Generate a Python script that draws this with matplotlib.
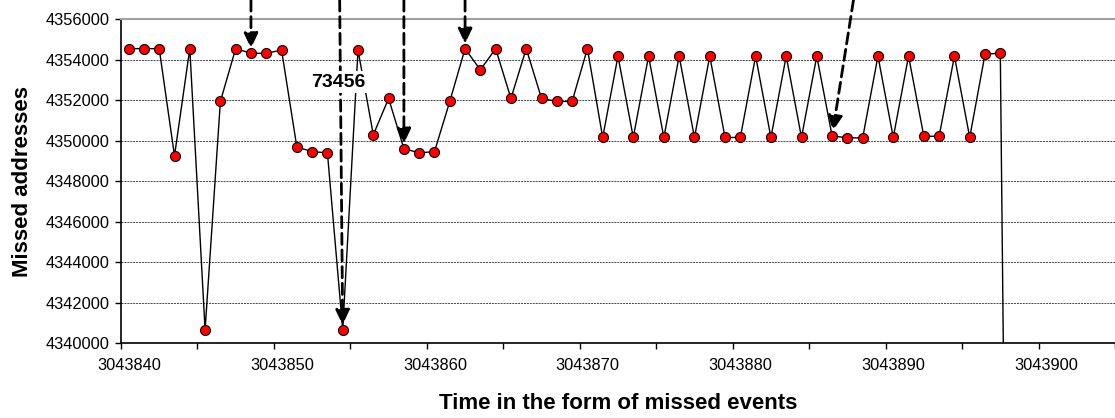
import numpy as np
import matplotlib.pyplot as plt
import matplotlib.transforms as mtransforms
from matplotlib.ticker import MultipleLocator

# missed events (x) and missed addresses (y)
events = [
    3043840.5, 3043841.5, 3043842.5, 3043843.5, 3043844.5, 3043845.5, 3043846.5,
    3043847.5, 3043848.5, 3043849.5, 3043850.5, 3043851.5, 3043852.5, 3043853.5,
    3043854.5, 3043855.5, 3043856.5, 3043857.5, 3043858.5, 3043859.5, 3043860.5,
    3043861.5, 3043862.5, 3043863.5, 3043864.5, 3043865.5, 3043866.5, 3043867.5,
    3043868.5, 3043869.5, 3043870.5, 3043871.5, 3043872.5, 3043873.5, 3043874.5,
    3043875.5, 3043876.5, 3043877.5, 3043878.5, 3043879.5, 3043880.5, 3043881.5,
    3043882.5, 3043883.5, 3043884.5, 3043885.5, 3043886.5, 3043887.5, 3043888.5,
    3043889.5, 3043890.5, 3043891.5, 3043892.5, 3043893.5, 3043894.5, 3043895.5,
    3043896.5, 3043897.5, 3043898.5,
]
# the last value falls far below the plotted range
addresses = [
    4354550, 4354550, 4354550, 4349250, 4354550, 4340650, 4351940,
    4354550, 4354320, 4354320, 4354480, 4349690, 4349460, 4349400,
    4340650, 4354480, 4350290, 4352090, 4349610, 4349400, 4349460,
    4351940, 4354550, 4353500, 4354550, 4352090, 4354550, 4352090,
    4351940, 4351940, 4354550, 4350160, 4354180, 4350160, 4354180,
    4350160, 4354180, 4350160, 4354180, 4350160, 4350160, 4354180,
    4350160, 4354180, 4350160, 4354180, 4350240, 4350140, 4350140,
    4354180, 4350160, 4354180, 4350220, 4350220, 4354180, 4350160,
    4354270, 4354330, 4281000,
]

# points marked with an arrow (index into the series)
arrow_idx = [8, 14, 18, 22, 46]
arrow_dx = [0.0, -0.2, 0.0, 0.0, 1.4]
label_text = "73456"

plt.rcParams['font.family'] = ['Liberation Sans', 'DejaVu Sans']

fig = plt.figure(figsize=(11.15, 4.18), dpi=100)
ax = fig.add_axes([0.1085, 0.1794, 0.8915, 0.7744])

ax.plot(events, addresses, '-', color='black', lw=1.0, zorder=3)
ax.plot(events[:-1], addresses[:-1], 'o', ms=7.2, mfc='red', mec='black',
        mew=0.8, zorder=4)

ax.set_xlim(3043840, 3043905)
ax.set_ylim(4340000, 4356000)
ax.xaxis.set_major_locator(MultipleLocator(10))
ax.xaxis.set_minor_locator(MultipleLocator(5))
ax.yaxis.set_major_locator(MultipleLocator(2000))
ax.xaxis.set_major_formatter(plt.FuncFormatter(lambda v, p: f"{v:.0f}"))
ax.yaxis.set_major_formatter(plt.FuncFormatter(lambda v, p: f"{v:.0f}"))

ax.tick_params(axis='both', which='both', direction='out', length=4.5,
               width=1.0, labelsize=11.8, colors='black')
ax.tick_params(axis='x', pad=6)
ax.tick_params(axis='y', pad=3.5)
for t in ax.get_xticklabels():
    t.set_transform(t.get_transform() + mtransforms.ScaledTranslation(8 / 100, 0, fig.dpi_scale_trans))

for gy in range(4342000, 4356000, 2000):
    ax.axhline(gy, color='#444444', lw=0.7, ls=(0, (2, 1)), zorder=1)

ax.spines['right'].set_visible(False)
ax.spines['top'].set_color('#a0a0a0')
ax.spines['top'].set_linewidth(1.5)
ax.spines['left'].set_linewidth(1.2)
ax.spines['bottom'].set_linewidth(1.2)

ax.set_xlabel('Time in the form of missed events', fontsize=16, fontweight='bold',
              labelpad=15)
ax.set_ylabel('Missed addresses', fontsize=16, fontweight='bold', labelpad=9)

for i, dx in zip(arrow_idx, arrow_dx):
    ax.annotate('', xy=(events[i], addresses[i]),
                xytext=(events[i] + dx, 1.0), textcoords=('data', 'figure fraction'),
                arrowprops=dict(arrowstyle='-|>,head_length=0.9,head_width=0.42',
                                color='black', lw=2.0, ls=(0, (4, 2)),
                                shrinkA=0, shrinkB=3.5),
                annotation_clip=False, zorder=5)

ax.text(events[14] - 0.27, 4352900, label_text, fontsize=14, fontweight='bold',
        ha='center', va='center', zorder=6,
        bbox=dict(facecolor='white', edgecolor='none', pad=1.5))

fig.savefig('out.png', dpi=100)
